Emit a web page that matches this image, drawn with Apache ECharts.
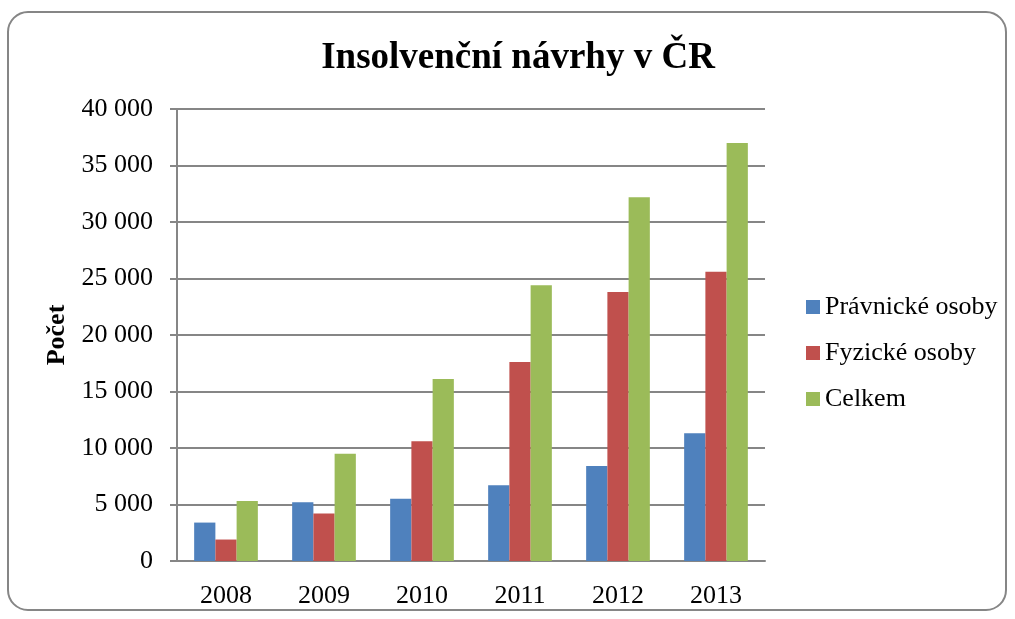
<!DOCTYPE html>
<html>
<head>
<meta charset="utf-8">
<script src="https://cdn.jsdelivr.net/npm/echarts@6/dist/echarts.min.js"></script>
<style>
  html, body { margin: 0; padding: 0; background: #fff; }
  #main { width: 1015px; height: 619px; }
</style>
</head>
<body>
<div id="main"></div>
<script>
// data
var years = ['2008', '2009', '2010', '2011', '2012', '2013'];
var pravnicke = [3400, 5200, 5500, 6700, 8400, 11300];
var fyzicke = [1900, 4200, 10600, 17600, 23800, 25600];
var celkem = [5300, 9500, 16100, 24400, 32200, 37000];
var seriesNames = ['Právnické osoby', 'Fyzické osoby', 'Celkem'];

var font = '"Liberation Serif", "Times New Roman", serif';

var chartDom = document.getElementById('main');
var myChart = echarts.init(chartDom);

function fmt(v) {
  // thousands with a space, like "35 000"
  return String(v).replace(/\B(?=(\d{3})+(?!\d))/g, ' ');
}

var option = {
  animation: false,
  textStyle: { fontFamily: font, color: '#000' },
  color: ['#4F81BD', '#C0504D', '#9BBB59'],
  graphic: [{
    type: 'rect',
    shape: { x: 8, y: 12, width: 998, height: 598, r: 20 },
    style: { fill: 'none', stroke: '#868686', lineWidth: 2 },
    silent: true
  }],
  title: {
    text: 'Insolvenční návrhy v ČR',
    left: 513,
    textAlign: 'center',
    top: 35,
    textStyle: { fontFamily: font, fontSize: 37, fontWeight: 'bold', color: '#000' }
  },
  legend: {
    orient: 'vertical',
    left: 801,
    top: 289,
    itemWidth: 14,
    itemHeight: 14,
    itemGap: 20,
    icon: 'rect',
    data: seriesNames,
    textStyle: { fontFamily: font, fontSize: 26, color: '#000' }
  },
  grid: { left: 177, top: 109, width: 588, height: 452 },
  xAxis: {
    type: 'category',
    data: years,
    axisLine: { lineStyle: { color: '#868686', width: 2 } },
    axisTick: { length: 7, lineStyle: { color: '#868686', width: 2 } },
    axisLabel: { fontFamily: font, fontSize: 26, color: '#000', margin: 22 }
  },
  yAxis: {
    type: 'value',
    min: 0,
    max: 40000,
    interval: 5000,
    name: 'Počet',
    nameLocation: 'middle',
    nameGap: 107,
    nameTextStyle: { fontFamily: font, fontSize: 26, fontWeight: 'bold', color: '#000' },
    axisLine: { show: true, lineStyle: { color: '#868686', width: 2 } },
    axisTick: { show: true, length: 7, lineStyle: { color: '#868686', width: 2 } },
    splitLine: { lineStyle: { color: '#868686', width: 2 } },
    axisLabel: {
      fontFamily: font, fontSize: 26, color: '#000', margin: 24,
      formatter: fmt
    }
  },
  series: [
    { name: seriesNames[0], type: 'bar', data: pravnicke, barGap: '0%', barCategoryGap: '35%' },
    { name: seriesNames[1], type: 'bar', data: fyzicke, barGap: '0%', barCategoryGap: '35%' },
    { name: seriesNames[2], type: 'bar', data: celkem, barGap: '0%', barCategoryGap: '35%' }
  ]
};

myChart.setOption(option);
window.addEventListener('resize', function () {
  myChart.resize();
});
</script>
</body>
</html>
